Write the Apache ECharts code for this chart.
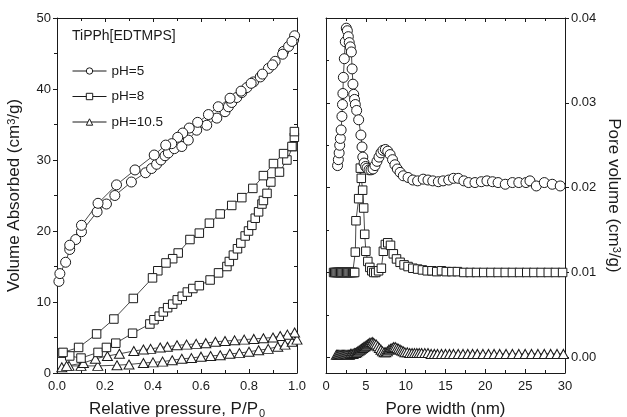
<!DOCTYPE html>
<html lang="en">
<head>
<meta charset="UTF-8">
<title>TiPPh[EDTMPS] isotherms</title>
<script src="https://cdn.jsdelivr.net/npm/echarts@6.0.0/dist/echarts.min.js"></script>
<style>
  html, body { margin: 0; padding: 0; background: #fff; }
  #chart { width: 627px; height: 417px; }
</style>
</head>
<body>
<div id="chart"></div>
<script>
// --- left panel: N2 isotherms, [P/P0, volume cm3/g] ---
var ph5Ads = [[0.008,12.9],[0.012,14.0],[0.036,15.6],[0.053,17.4],[0.078,18.8],[0.102,19.9],[0.167,22.7],[0.206,23.8],[0.241,25.0],[0.31,26.9],[0.369,28.2],[0.394,28.8],[0.415,29.4],[0.433,30.0],[0.45,30.6],[0.464,31.0],[0.489,31.6],[0.52,31.9],[0.547,32.8],[0.582,34.2],[0.624,34.9],[0.666,35.9],[0.7,36.8],[0.714,37.5],[0.728,38.1],[0.749,38.8],[0.77,39.5],[0.791,40.2],[0.819,41.0],[0.847,41.7],[0.881,42.9],[0.909,43.9],[0.944,45.3],[0.965,46.0],[0.986,46.9]];
var ph5Des = [[0.99,47.5],[0.979,46.7],[0.94,44.9],[0.898,43.4],[0.856,42.1],[0.809,40.8],[0.767,39.7],[0.721,38.7],[0.672,37.5],[0.631,36.4],[0.586,35.3],[0.551,34.5],[0.524,33.8],[0.503,33.2],[0.478,32.3],[0.453,32.1],[0.405,30.7],[0.325,28.6],[0.248,26.5],[0.171,23.9],[0.102,20.8],[0.053,18.0]];
var ph8Ads = [[0.02,2.8],[0.053,2.4],[0.1,2.1],[0.171,2.9],[0.206,3.6],[0.245,4.2],[0.315,5.6],[0.387,6.9],[0.404,7.5],[0.426,8.0],[0.443,8.6],[0.461,9.2],[0.482,9.7],[0.501,10.3],[0.522,10.8],[0.543,11.4],[0.566,11.9],[0.593,12.3],[0.638,13.1],[0.673,14.1],[0.708,15.0],[0.718,15.7],[0.735,16.6],[0.752,17.5],[0.766,18.3],[0.784,19.3],[0.798,20.0],[0.812,20.8],[0.826,21.8],[0.84,22.7],[0.854,23.8],[0.86,24.3],[0.875,25.3],[0.891,26.9],[0.927,28.3],[0.958,30.0],[0.983,31.9],[0.989,33.2]];
var ph8Des = [[0.989,34.0],[0.979,31.9],[0.944,30.9],[0.902,29.5],[0.86,27.8],[0.816,26.0],[0.77,24.7],[0.728,23.6],[0.68,22.4],[0.635,21.1],[0.593,19.7],[0.554,18.8],[0.505,16.9],[0.482,16.1],[0.454,15.5],[0.42,14.4],[0.398,13.4],[0.318,10.5],[0.237,7.6],[0.165,5.5],[0.09,3.6],[0.025,2.9]];
var ph105Ads = [[0.02,0.8],[0.05,1.0],[0.1,1.0],[0.17,1.0],[0.25,1.1],[0.3,1.2],[0.36,1.4],[0.4,1.5],[0.44,1.6],[0.48,1.8],[0.52,2.0],[0.56,2.1],[0.6,2.3],[0.64,2.4],[0.68,2.5],[0.72,2.7],[0.76,2.8],[0.8,3.0],[0.84,3.2],[0.88,3.4],[0.92,3.7],[0.95,4.0],[0.98,4.4],[1.0,4.7]];
var ph105Des = [[0.99,5.7],[0.96,5.4],[0.93,5.2],[0.9,5.0],[0.86,4.9],[0.82,4.8],[0.78,4.7],[0.74,4.6],[0.7,4.5],[0.66,4.4],[0.62,4.2],[0.58,4.1],[0.54,4.0],[0.5,3.9],[0.46,3.7],[0.43,3.6],[0.39,3.4],[0.36,3.3],[0.32,3.1],[0.26,2.7],[0.21,2.4],[0.16,2.0],[0.11,1.4],[0.04,1.0]];

// --- right panel: pore size distribution, [width nm, volume cm3/g] ---
var psd5 = [[1.45,0.0226],[1.55,0.0233],[1.65,0.0241],[1.72,0.0250],[1.8,0.0258],[1.9,0.0268],[2.0,0.0284],[2.07,0.0298],[2.12,0.0311],[2.18,0.0330],[2.3,0.0352],[2.42,0.0372],[2.55,0.0388],[2.68,0.0385],[2.8,0.0378],[2.92,0.0371],[3.05,0.0366],[3.18,0.0360],[3.28,0.0340],[3.38,0.0322],[3.48,0.0310],[3.58,0.0304],[3.68,0.0298],[3.85,0.0291],[4.1,0.0280],[4.38,0.0262],[4.52,0.0248],[4.62,0.0236],[4.78,0.0229],[4.97,0.0225],[5.15,0.0223],[5.4,0.0221],[5.65,0.0221],[5.9,0.0222],[6.15,0.0226],[6.4,0.0231],[6.65,0.0236],[6.9,0.0241],[7.15,0.0244],[7.45,0.0245],[7.75,0.0243],[8.05,0.0239],[8.35,0.0233],[8.65,0.0227],[8.95,0.0222],[9.3,0.0218],[9.7,0.0214],[10.3,0.0212],[10.9,0.0209],[11.5,0.0208],[12.2,0.0210],[12.8,0.0209],[13.4,0.0208],[14.1,0.0207],[14.7,0.0208],[15.4,0.0209],[16.0,0.0211],[16.6,0.0211],[17.3,0.0208],[17.9,0.0206],[18.7,0.0206],[19.5,0.0207],[20.2,0.0208],[20.9,0.0207],[21.6,0.0206],[22.5,0.0204],[23.4,0.0206],[24.2,0.0206],[25.1,0.0206],[25.6,0.0208],[26.4,0.0202],[27.4,0.0206],[28.4,0.0204],[29.4,0.0202]];
var psd8 = [[0.95,0.0100],[1.1,0.0100],[1.25,0.0100],[1.4,0.0100],[1.55,0.0100],[1.7,0.0100],[1.85,0.0100],[2.0,0.0100],[2.15,0.0100],[2.3,0.0100],[2.45,0.0100],[2.6,0.0100],[2.75,0.0100],[2.9,0.0100],[3.05,0.0100],[3.2,0.0100],[3.35,0.0100],[3.5,0.0100],[3.6,0.0100],[3.68,0.0124],[3.76,0.0161],[4.1,0.0187],[4.31,0.0223],[4.43,0.0211],[4.6,0.0197],[4.73,0.0176],[4.86,0.0145],[5.0,0.0125],[5.25,0.0113],[5.5,0.0106],[5.75,0.0102],[6.0,0.0100],[6.25,0.0100],[6.6,0.0102],[6.95,0.0105],[7.2,0.0125],[7.45,0.0133],[7.75,0.0135],[8.1,0.0132],[8.45,0.0122],[8.85,0.0116],[9.3,0.0112],[9.8,0.0109],[10.3,0.0107],[10.9,0.0105],[11.5,0.0104],[12.1,0.0103],[12.7,0.0102],[13.3,0.0102],[13.9,0.0101],[14.5,0.0102],[15.1,0.0101],[15.8,0.0101],[16.5,0.0101],[17.3,0.0100],[18.1,0.0100],[18.9,0.0100],[19.8,0.0100],[20.7,0.0100],[21.6,0.0100],[22.5,0.0100],[23.4,0.0100],[24.3,0.0100],[25.2,0.0100],[26.1,0.0100],[27.0,0.0100],[27.9,0.0100],[28.8,0.0100],[29.7,0.0100]];
var psd105 = [[1.3,0.0003],[1.45,0.0003],[1.6,0.0003],[1.75,0.0003],[1.9,0.0003],[2.05,0.0003],[2.2,0.0003],[2.35,0.0003],[2.5,0.0003],[2.65,0.0003],[2.8,0.0003],[2.95,0.0003],[3.1,0.0004],[3.25,0.0004],[3.4,0.0004],[3.55,0.0005],[3.7,0.0005],[3.85,0.0006],[4.0,0.0007],[4.15,0.0008],[4.3,0.0009],[4.45,0.0010],[4.6,0.0011],[4.75,0.0012],[4.9,0.0013],[5.05,0.0014],[5.2,0.0015],[5.35,0.0016],[5.5,0.0017],[5.65,0.0017],[5.8,0.0018],[5.95,0.0017],[6.1,0.0016],[6.3,0.0015],[6.5,0.0013],[6.7,0.0011],[6.9,0.0009],[7.1,0.0007],[7.3,0.0006],[7.5,0.0006],[7.7,0.0007],[7.9,0.0009],[8.1,0.0010],[8.3,0.0011],[8.5,0.0012],[8.7,0.0012],[8.9,0.0011],[9.1,0.0010],[9.3,0.0009],[9.5,0.0008],[9.7,0.0007],[9.9,0.0006],[10.2,0.0006],[10.5,0.0005],[10.8,0.0005],[11.1,0.0005],[11.4,0.0005],[11.7,0.0005],[12.0,0.0005],[12.4,0.0005],[12.8,0.0005],[13.2,0.0004],[13.6,0.0004],[14.0,0.0004],[14.5,0.0004],[15.0,0.0004],[15.5,0.0004],[16.0,0.0004],[16.6,0.0004],[17.2,0.0004],[17.8,0.0004],[18.4,0.0004],[19.0,0.0004],[19.7,0.0004],[20.4,0.0004],[21.1,0.0004],[21.8,0.0004],[22.6,0.0004],[23.4,0.0004],[24.2,0.0004],[25.0,0.0004],[25.8,0.0004],[26.6,0.0004],[27.4,0.0004],[28.2,0.0004],[29.0,0.0004],[29.8,0.0004]];

var legendNames = ['pH=5', 'pH=8', 'pH=10.5'];
var leftXTicks = ['0.0', '0.2', '0.4', '0.6', '0.8', '1.0'];
var rightYMajor = [0, 0.01, 0.02, 0.03, 0.04];
var rightYMinor = [0.005, 0.015, 0.025, 0.035];

var font = '"Liberation Sans", Arial, Helvetica, sans-serif';
var ink = '#1a1a1a';

var chart = echarts.init(document.getElementById('chart'), null, { renderer: 'canvas' });

function mk(name, data, sym, size, xi, yi) {
    return {
        name: name,
        type: 'line',
        xAxisIndex: xi,
        yAxisIndex: yi,
        data: data,
        symbol: sym,
        symbolSize: size,
        showAllSymbol: true,
        animation: false,
        lineStyle: { color: ink, width: 0.8 },
        itemStyle: { color: '#fff', borderColor: ink, borderWidth: 1 }
    };
}

// shared axis bits
var lineAx = { show: true, onZero: false, lineStyle: { color: ink, width: 1 } };
var tickIn = { show: true, inside: true, length: 4, lineStyle: { color: ink } };
var tickOut = { show: true, inside: false, length: 4, lineStyle: { color: ink } };
var minorIn = { show: true, splitNumber: 2, length: 3, lineStyle: { color: ink } };
var minorOut = { show: true, splitNumber: 2, length: 3, lineStyle: { color: ink } };
var nameStyle = {
    color: ink, fontSize: 17, fontFamily: font,
    rich: {
        sup: { fontSize: 11, verticalAlign: 'top', lineHeight: 11, color: ink, fontFamily: font },
        n: { fontSize: 17, color: ink, fontFamily: font }
    }
};
var subNameStyle = {
    color: ink, fontSize: 17, fontFamily: font,
    rich: {
        n: { fontSize: 17, lineHeight: 18, verticalAlign: 'top', color: ink, fontFamily: font },
        sub: { fontSize: 11, lineHeight: 11, padding: [9, 0, 0, 1], verticalAlign: 'bottom', color: ink, fontFamily: font }
    }
};

var option = {
    animation: false,
    backgroundColor: '#fff',
    grid: [
        { left: 57, right: 330, top: 18, bottom: 44, outerBoundsMode: 'none', containLabel: false },
        { left: 326, right: 62, top: 18, bottom: 44, outerBoundsMode: 'none', containLabel: false }
    ],
    xAxis: [
        { // left, bottom
            type: 'value', gridIndex: 0, min: 0, max: 1, interval: 0.2,
            axisLine: lineAx, axisTick: tickIn, minorTick: minorIn,
            splitLine: { show: false }, minorSplitLine: { show: false },
            axisLabel: { show: true, margin: 7, color: ink, fontSize: 13, fontFamily: font,
                formatter: function (v) { return leftXTicks[Math.round(v * 5)]; } },
            name: '{n|Relative pressure, P/P}{sub|0}', nameLocation: 'middle', nameGap: 28,
            nameTextStyle: subNameStyle
        },
        { // left, top mirror
            type: 'value', gridIndex: 0, position: 'top', min: 0, max: 1, interval: 0.2,
            axisLine: lineAx, axisTick: tickIn, minorTick: minorIn,
            splitLine: { show: false }, axisLabel: { show: false }
        },
        { // right, bottom
            type: 'value', gridIndex: 1, min: 0, max: 30, interval: 5,
            axisLine: lineAx, axisTick: tickIn, minorTick: minorIn,
            splitLine: { show: false }, minorSplitLine: { show: false },
            axisLabel: { show: true, margin: 7, color: ink, fontSize: 13, fontFamily: font },
            name: 'Pore width (nm)', nameLocation: 'middle', nameGap: 28,
            nameTextStyle: { color: ink, fontSize: 17, fontFamily: font }
        },
        { // right, top mirror
            type: 'value', gridIndex: 1, position: 'top', min: 0, max: 30, interval: 5,
            axisLine: lineAx, axisTick: tickIn, minorTick: minorIn,
            splitLine: { show: false }, axisLabel: { show: false }
        }
    ],
    yAxis: [
        { // left panel, left side
            type: 'value', gridIndex: 0, min: 0, max: 50, interval: 10,
            axisLine: lineAx, axisTick: tickOut, minorTick: minorOut,
            splitLine: { show: false }, minorSplitLine: { show: false },
            axisLabel: { show: true, margin: 6, color: ink, fontSize: 13, fontFamily: font },
            name: '{n|Volume Absorbed (cm}{sup|3}{n|/g)}', nameLocation: 'middle', nameGap: 34,
            nameTextStyle: nameStyle
        },
        { // left panel, right mirror
            type: 'value', gridIndex: 0, position: 'right', min: 0, max: 50, interval: 10,
            axisLine: lineAx, axisTick: tickIn, minorTick: minorIn,
            splitLine: { show: false }, axisLabel: { show: false }
        },
        { // right panel, right side with labels
            type: 'value', gridIndex: 1, position: 'right', min: -0.00185, max: 0.04,
            axisLine: lineAx,
            axisTick: { show: true, inside: false, length: 4, customValues: rightYMajor, lineStyle: { color: ink } },
            splitLine: { show: false },
            axisLabel: { show: true, margin: 6, color: ink, fontSize: 13, fontFamily: font,
                customValues: rightYMajor,
                formatter: function (v) { return v.toFixed(2); } },
            name: '{n|Pore volume (cm}{sup|3}{n|/g)}', nameLocation: 'middle', nameGap: 40, nameRotate: -90,
            nameTextStyle: nameStyle
        },
        { // right panel, right side minor ticks
            type: 'value', gridIndex: 1, position: 'right', min: -0.00185, max: 0.04,
            axisLine: { show: false },
            axisTick: { show: true, inside: false, length: 3, customValues: rightYMinor, lineStyle: { color: ink } },
            splitLine: { show: false }, axisLabel: { show: false }
        },
        { // right panel, left mirror major
            type: 'value', gridIndex: 1, position: 'left', min: -0.00185, max: 0.04,
            axisLine: lineAx,
            axisTick: { show: true, inside: true, length: 4, customValues: rightYMajor, lineStyle: { color: ink } },
            splitLine: { show: false }, axisLabel: { show: false }
        },
        { // right panel, left mirror minor
            type: 'value', gridIndex: 1, position: 'left', min: -0.00185, max: 0.04,
            axisLine: { show: false },
            axisTick: { show: true, inside: true, length: 3, customValues: rightYMinor, lineStyle: { color: ink } },
            splitLine: { show: false }, axisLabel: { show: false }
        }
    ],
    legend: {
        data: legendNames,
        orient: 'vertical',
        left: 67, top: 59,
        itemWidth: 34, itemHeight: 8, itemGap: 11.5,
        lineStyle: { width: 1, color: ink },
        itemStyle: { color: '#fff', borderColor: ink, borderWidth: 1 },
        textStyle: { color: ink, fontSize: 13.5, fontFamily: font },
        selectedMode: false
    },
    graphic: [{
        type: 'text', left: 72, top: 29,
        style: { text: 'TiPPh[EDTMPS]', fill: ink, fontSize: 14, fontFamily: font }
    }],
    series: [
        mk('pH=10.5', ph105Ads, 'triangle', [10, 9], 0, 0),
        mk('pH=10.5', ph105Des, 'triangle', [10, 9], 0, 0),
        mk('pH=8', ph8Ads, 'rect', 8.5, 0, 0),
        mk('pH=8', ph8Des, 'rect', 8.5, 0, 0),
        mk('pH=5', ph5Ads, 'circle', 10, 0, 0),
        mk('pH=5', ph5Des, 'circle', 10, 0, 0),
        mk('pH=10.5', psd105, 'triangle', [10, 9], 2, 2),
        mk('pH=8', psd8, 'rect', 8.5, 2, 2),
        mk('pH=5', psd5, 'circle', 10, 2, 2)
    ]
};

chart.setOption(option);
</script>
</body>
</html>
